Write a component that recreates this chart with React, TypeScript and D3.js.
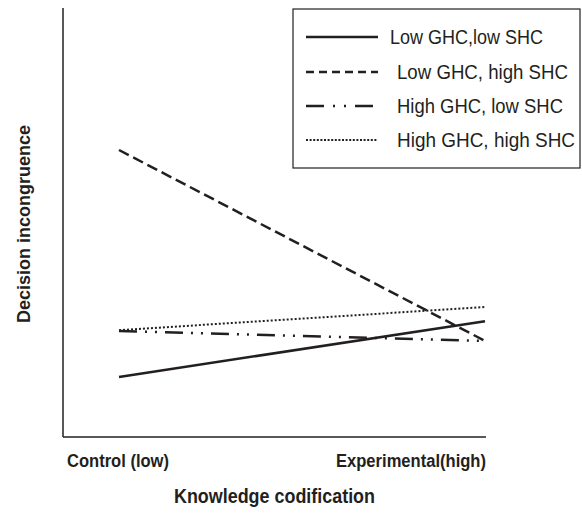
import * as d3 from 'd3'

const categories = ['Control (low)', 'Experimental(high)']
const seriesNames = ['Low GHC,low SHC', 'Low GHC, high SHC', 'High GHC, low SHC', 'High GHC, high SHC']
const lowLow = [1.4, 2.7]
const lowHigh = [6.69, 2.24]
const highLow = [2.47, 2.24]
const highHigh = [2.49, 3.03]
const dashes = ['none', '11 5', '18 8 2 8 2 8', '2 2']
const legendDashes = ['none', '8 5', '18 9 2 9 2 9', '2 1.6']
const legendX = [390, 397, 397, 397]
const legendWidths = [153, 171, 166, 178]

const W = 582, H = 515
const FONT = '"Liberation Sans", Arial, sans-serif'
const INK = '#231f20'

export default function App() {
  const x = d3.scalePoint<string>().domain(categories).range([119, 485])
  const y = d3.scaleLinear().domain([0, 10]).range([437, 8])
  const line = d3.line<[string, number]>().x(d => x(d[0]) as number).y(d => y(d[1]))
  const series = [lowLow, lowHigh, highLow, highHigh]
  const legendY = [37, 72, 106, 140]

  return (
    <svg width={W} height={H} style={{ position: 'absolute', left: 0, top: 0 }} fontFamily={FONT}>
      <rect width={W} height={H} fill="#fff" />
      {/* axes */}
      <line x1={63} y1={8} x2={63} y2={437} stroke={INK} strokeWidth={1.5} />
      <line x1={63} y1={437} x2={486} y2={437} stroke={INK} strokeWidth={1.5} />

      {series.map((vals, i) => (
        <path key={i}
          d={line(categories.map((c, j) => [c, vals[j]] as [string, number])) || ''}
          fill="none" stroke={INK} strokeWidth={i === 3 ? 2 : 2.5}
          strokeDasharray={dashes[i]} />
      ))}

      {/* legend */}
      <rect x={293} y={9} width={287} height={159} fill="#fff" stroke={INK} strokeWidth={1.2} />
      {seriesNames.map((name, i) => (
        <g key={name}>
          <line x1={306} x2={378} y1={legendY[i]} y2={legendY[i]} stroke={INK}
            strokeWidth={i === 3 ? 2 : 2.5} strokeDasharray={legendDashes[i]} />
          <text x={legendX[i]} y={legendY[i] + 7} fontSize={20} fill={INK}
            textLength={legendWidths[i]} lengthAdjust="spacingAndGlyphs">{name}</text>
        </g>
      ))}

      {/* labels */}
      <text x={67} y={467} fontSize={18} fontWeight="bold" fill={INK} textLength={102} lengthAdjust="spacingAndGlyphs">{categories[0]}</text>
      <text x={336} y={467} fontSize={18} fontWeight="bold" fill={INK} textLength={150} lengthAdjust="spacingAndGlyphs">{categories[1]}</text>
      <text x={174} y={503} fontSize={20} fontWeight="bold" fill={INK} textLength={201} lengthAdjust="spacingAndGlyphs">Knowledge codification</text>
      <text transform="translate(30,224) rotate(-90)" fontSize={18} fontWeight="bold" fill={INK} textAnchor="middle">Decision incongruence</text>
    </svg>
  )
}
